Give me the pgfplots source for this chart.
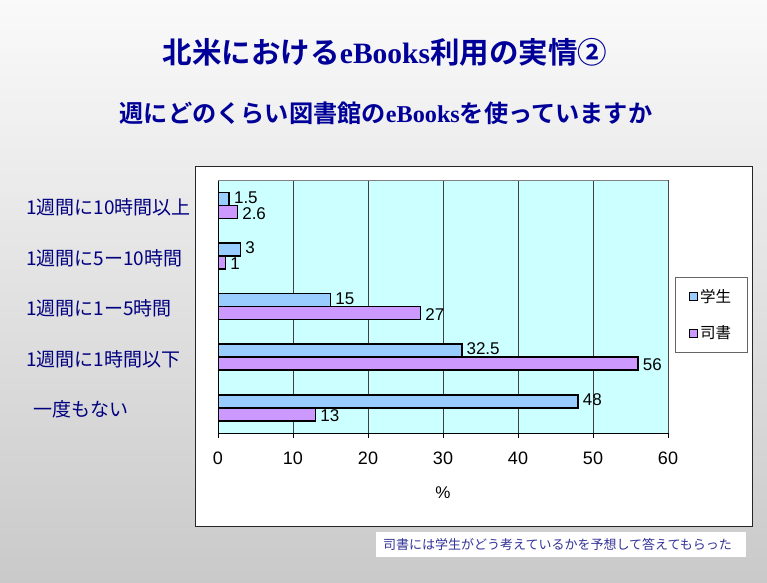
\documentclass[border=0pt]{standalone}
\usepackage{pgfplots}
\pgfplotsset{compat=1.18}
\usepackage{fontspec}
\setmainfont{Liberation Sans}
\newfontfamily\jp{Noto Sans CJK JP}
\newfontfamily\jpb{Noto Sans CJK JP Bold}
\newfontfamily\serifb{Liberation Serif Bold}
\definecolor{stud}{HTML}{99CCFF}
\definecolor{libr}{HTML}{CC99FF}
\definecolor{plotbg}{HTML}{CCFFFF}
\definecolor{navy}{HTML}{000080}
\definecolor{titleblue}{HTML}{000099}
\definecolor{notecol}{HTML}{333399}
\begin{document}
\begin{tikzpicture}[x=1pt,y=1pt]
\shade[top color=black!2, bottom color=black!21] (0,0) rectangle (767,582);
\draw[black!85, fill=white, line width=0.8pt] (195,56) rectangle (752,416);
\fill[white] (376,25) rectangle (746,50);
\node[anchor=west, inner sep=0, text=notecol, font=\jp\fontsize{13}{15}\selectfont] at (383,37.5) {司書には学生がどう考えているかを予想して答えてもらった};
\node[text=titleblue, inner sep=0, font=\jpb\fontsize{29.5}{33}\selectfont] at (385,530) {北米における{\serifb eBooks}利用の実情②};
\node[text=titleblue, inner sep=0, font=\jpb\fontsize{24.2}{27}\selectfont] at (386,469) {週にどのくらい図書館の{\serifb eBooks}を使っていますか};
\begin{axis}[
  at={(218pt,149pt)}, anchor=south west,
  width=450pt, height=253pt, scale only axis,
  xmin=0, xmax=60, ymin=-0.5, ymax=4.5,
  /pgf/number format/assume math mode=true,
  axis background/.style={fill=plotbg},
  axis lines=left, axis line style={-, black, line width=0.8pt},
  xtick={0,10,...,60}, tick align=outside, major tick length=5pt,
  xtick style={black, line width=0.8pt},
  xticklabel style={font=\fontsize{18}{20}\selectfont, yshift=-10pt},
  xmajorgrids, grid style={black!75, line width=0.8pt},
  ytick={0,1,2,3,4},
  yticklabels={\hspace{7pt}一度もない,1週間に1時間以下,1週間に1ー5時間,1週間に5ー10時間,1週間に10時間以上},
  ytick style={draw=none},
  yticklabel style={anchor=west, inner sep=0, xshift=-187pt, yshift=-2pt, text=navy, font=\jp\fontsize{19}{21}\selectfont},
  xlabel={\%}, xlabel style={font=\fontsize{17}{19}\selectfont, yshift=-16pt},
  xbar, bar width=13pt,
  nodes near coords, nodes near coords style={font=\fontsize{17}{19}\selectfont, black, anchor=west, inner sep=0pt, xshift=4pt},
  legend style={at={(1.0156,0.617)}, anchor=north west, draw=black!60, fill=white,
    font=\jp\fontsize{15.5}{17}\selectfont, row sep=18pt, inner xsep=14pt, inner ysep=10pt},
  legend cell align=left,
  legend image code/.code={\draw[#1, line width=0.8pt] (0pt,-4pt) rectangle (8pt,4pt);},
]
\addplot[xbar, bar shift=6.5pt, fill=stud, draw=black, line width=1.6pt,
  nodes near coords style={yshift=1.5pt}] coordinates {(48,0) (32.5,1) (15,2) (3,3) (1.5,4)};
\addplot[xbar, bar shift=-6.5pt, fill=libr, draw=black, line width=1.6pt,
  nodes near coords style={yshift=-1.5pt}] coordinates {(13,0) (56,1) (27,2) (1,3) (2.6,4)};
\legend{学生,司書}
\draw[black!50, line width=0.8pt] (rel axis cs:0,1) -- (rel axis cs:1,1) -- (rel axis cs:1,0);
\end{axis}
\end{tikzpicture}
\end{document}
